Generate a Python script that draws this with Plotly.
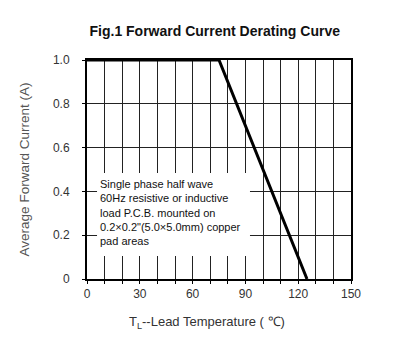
import plotly.graph_objects as go

# Data
temp = [0, 75, 125]
current = [1.0, 1.0, 0.0]
x_tickvals = [0, 30, 60, 90, 120, 150]
x_ticktext = ["0", "30", "60", "90", "120", "150"]
y_tickvals = [0, 0.2, 0.4, 0.6, 0.8, 1.0]
y_ticktext = ["0", "0.2", "0.4", "0.6", "0.8", "1.0"]
note = "Single phase half wave<br>60Hz resistive or inductive<br>load P.C.B. mounted on<br>0.2×0.2\"(5.0×5.0mm) copper<br>pad areas"
x_title = "T<sub>L</sub>--Lead Temperature ( ℃)"
y_title = "Average Forward Current (A)"

FONT = "Liberation Sans, Arial, sans-serif"

fig = go.Figure()
fig.add_trace(go.Scatter(x=temp, y=current, mode="lines",
                         line=dict(color="black", width=3), showlegend=False))

fig.add_shape(type="rect", xref="x", yref="y", x0=5.7, x1=92.6, y0=0.105, y1=0.484,
              fillcolor="white", line=dict(width=0), layer="above")
fig.add_annotation(x=6.5, y=0.47, xref="x", yref="y", text=note, showarrow=False,
                   xanchor="left", yanchor="top", align="left",
                   font=dict(family=FONT, size=11, color="#111"))

fig.add_annotation(x=(206.5 - 87) / 264, y=(279 - 322) / 219, xref="paper", yref="paper",
                   text=x_title, showarrow=False, xanchor="center", yanchor="middle",
                   font=dict(family=FONT, size=13, color="#333"))

fig.update_layout(
    width=417, height=342,
    margin=dict(l=87, r=66, t=60, b=63),
    paper_bgcolor="white", plot_bgcolor="white",
    title=dict(text="<b>Fig.1 Forward Current Derating Curve</b>", x=0.515, xanchor="center",
               y=1 - 31/342, yanchor="middle",
               font=dict(family=FONT, size=14, color="#111")),
    font=dict(family=FONT, size=12, color="#333"),
)
fig.update_xaxes(range=[0, 150], tickvals=x_tickvals, ticktext=x_ticktext,
                 showgrid=True, gridcolor="#222", gridwidth=1,
                 minor=dict(dtick=10, tick0=0, showgrid=True, gridcolor="#222", gridwidth=1,
                            ticks="outside", ticklen=3, tickcolor="black"),
                 showline=True, linecolor="black", linewidth=2, mirror=True,
                 ticks="outside", ticklen=3, tickcolor="black",
                 zeroline=False,
                 tickfont=dict(family=FONT, size=12, color="#333"))
fig.update_yaxes(range=[0, 1], tickvals=y_tickvals, ticktext=y_ticktext,
                 showgrid=True, gridcolor="#222", gridwidth=1,
                 showline=True, linecolor="black", linewidth=2, mirror=True,
                 ticks="outside", ticklen=3, tickcolor="black",
                 zeroline=False, ticklabelstandoff=10,
                 title=dict(text=y_title,
                            font=dict(family=FONT, size=13.5, color="#555"), standoff=20),
                 tickfont=dict(family=FONT, size=12, color="#333"))

fig.write_html("out.html")
